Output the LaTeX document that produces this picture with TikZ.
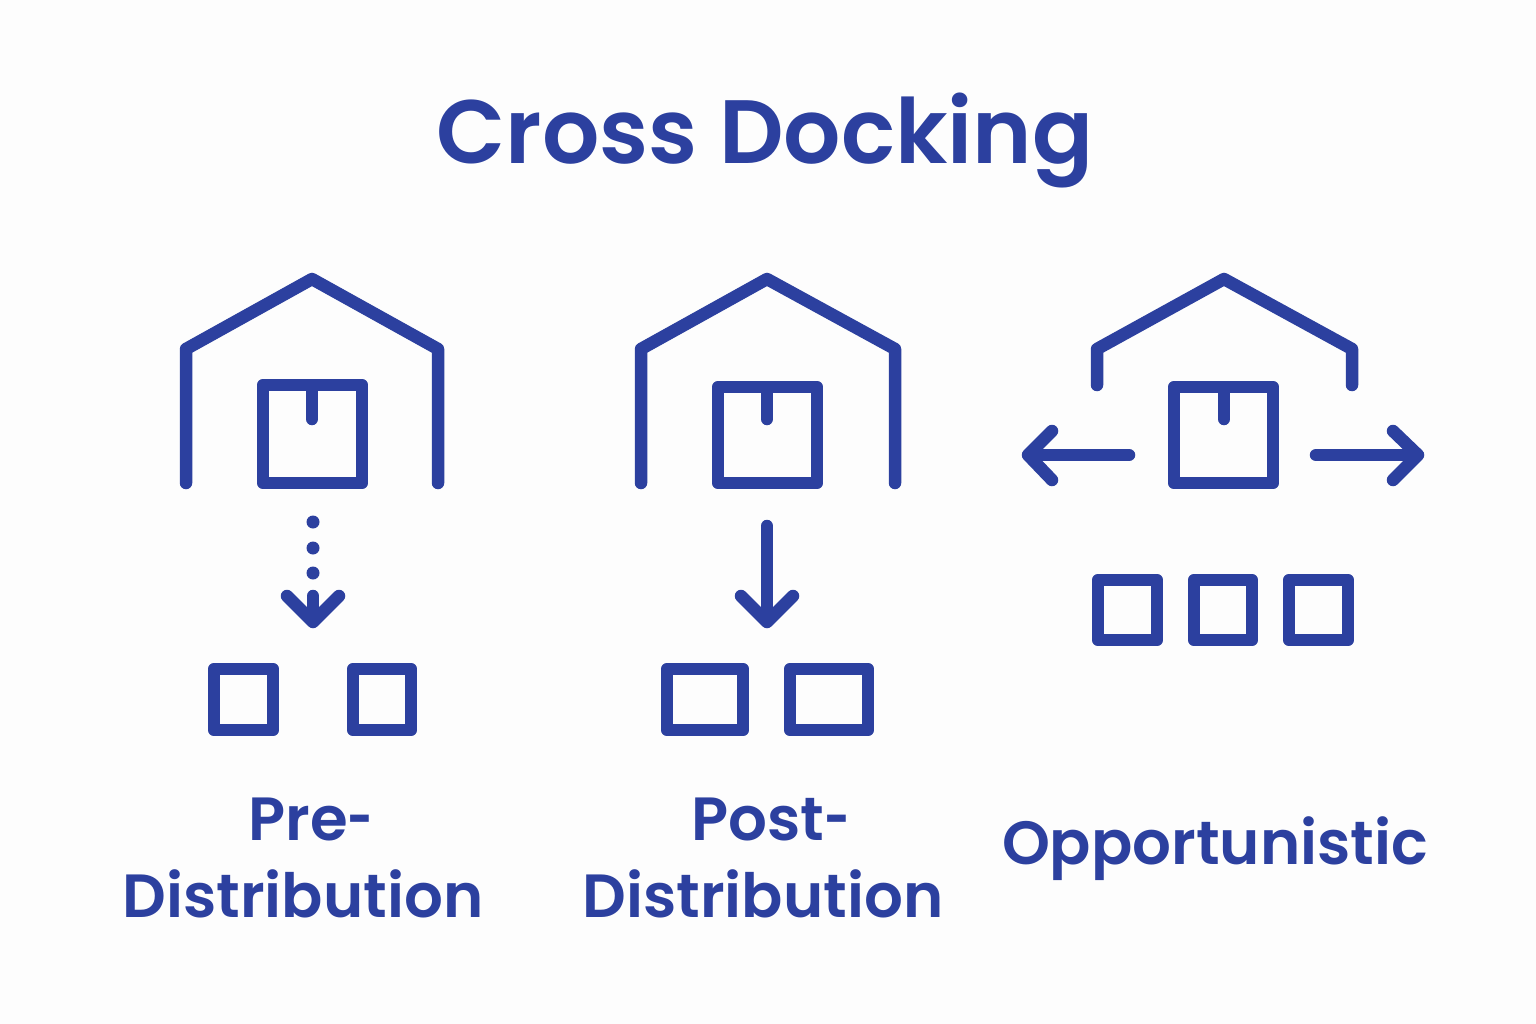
\documentclass[tikz,border=0pt]{standalone}
\usepackage{fontspec}
\usepackage{graphicx}
\setmainfont{Poppins}[UprightFont=* Medium,BoldFont=* SemiBold]
\definecolor{ink}{HTML}{2C409F}
\definecolor{bg}{HTML}{FDFDFD}
\newcommand{\shorthyph}{\scalebox{0.72}[1]{-}}
\tikzset{
 x=1pt,y=-1pt,
 ln/.style={draw=ink,line width=12.5pt,line cap=round,line join=round},
 thin ln/.style={draw=ink,line width=12.5pt,line join=round,line cap=round},
 lab/.style={text=ink,font=\bfseries\fontsize{61}{76}\selectfont,align=center,inner sep=0pt},
}
\begin{document}
\begin{tikzpicture}
\path[fill=bg] (0,0) rectangle (1536,1024);
\useasboundingbox (0,0) rectangle (1536,1024);
\node[lab,font=\bfseries\fontsize{90}{110}\selectfont] (title) at (765,141) {Cross Docking};
% Pre
\draw[ln] (186,483) -- (186,349) -- (312,279) -- (438,349) -- (438,483);
\draw[thin ln] (263,385) rectangle (362,483);
\draw[ln] (312,390) -- (312,419);
\fill[ink] (313,522) circle (6.5) (313,548) circle (6.5) (313,573) circle (6.5);
\draw[ln] (313,596) -- (313,621);
\draw[ln] (287,596) -- (313,622) -- (339,596);
\draw[thin ln] (214,669) rectangle (273,730);
\draw[thin ln] (353,669) rectangle (411,730);
\node[lab] (pre) at (311,819) {Pre\shorthyph};
\node[lab] (pred) at (303,893.5) {Distribution};
% Post
\draw[ln] (641,483) -- (641,349) -- (767,279) -- (895,349) -- (895,483);
\draw[thin ln] (718,387) rectangle (817,483);
\draw[ln] (767,390) -- (767,419);
\draw[ln] (767,526) -- (767,621);
\draw[ln] (741,596) -- (767,622) -- (793,596);
\draw[thin ln] (667,669) rectangle (743,730);
\draw[thin ln] (790,669) rectangle (868,730);
\node[lab] (post) at (771,819) {Post\shorthyph};
\node[lab] (postd) at (763,893.5) {Distribution};
% Opp
\draw[ln] (1097,385) -- (1097,349) -- (1224,279) -- (1352,349) -- (1352,385);
\draw[thin ln] (1174,387) rectangle (1273,483);
\draw[ln] (1224,390) -- (1224,419);
\draw[ln] (1129,455) -- (1030,455);
\draw[ln] (1052,431) -- (1028,455) -- (1052,480);
\draw[ln] (1316,455) -- (1417,455);
\draw[ln] (1393,431) -- (1418,455) -- (1393,480);
\draw[thin ln] (1098,580) rectangle (1157,640);
\draw[thin ln] (1194,580) rectangle (1252,640);
\draw[thin ln] (1289,580) rectangle (1348,640);
\node[lab] (opp) at (1215,849) {Opportunistic};
\end{tikzpicture}
\end{document}
